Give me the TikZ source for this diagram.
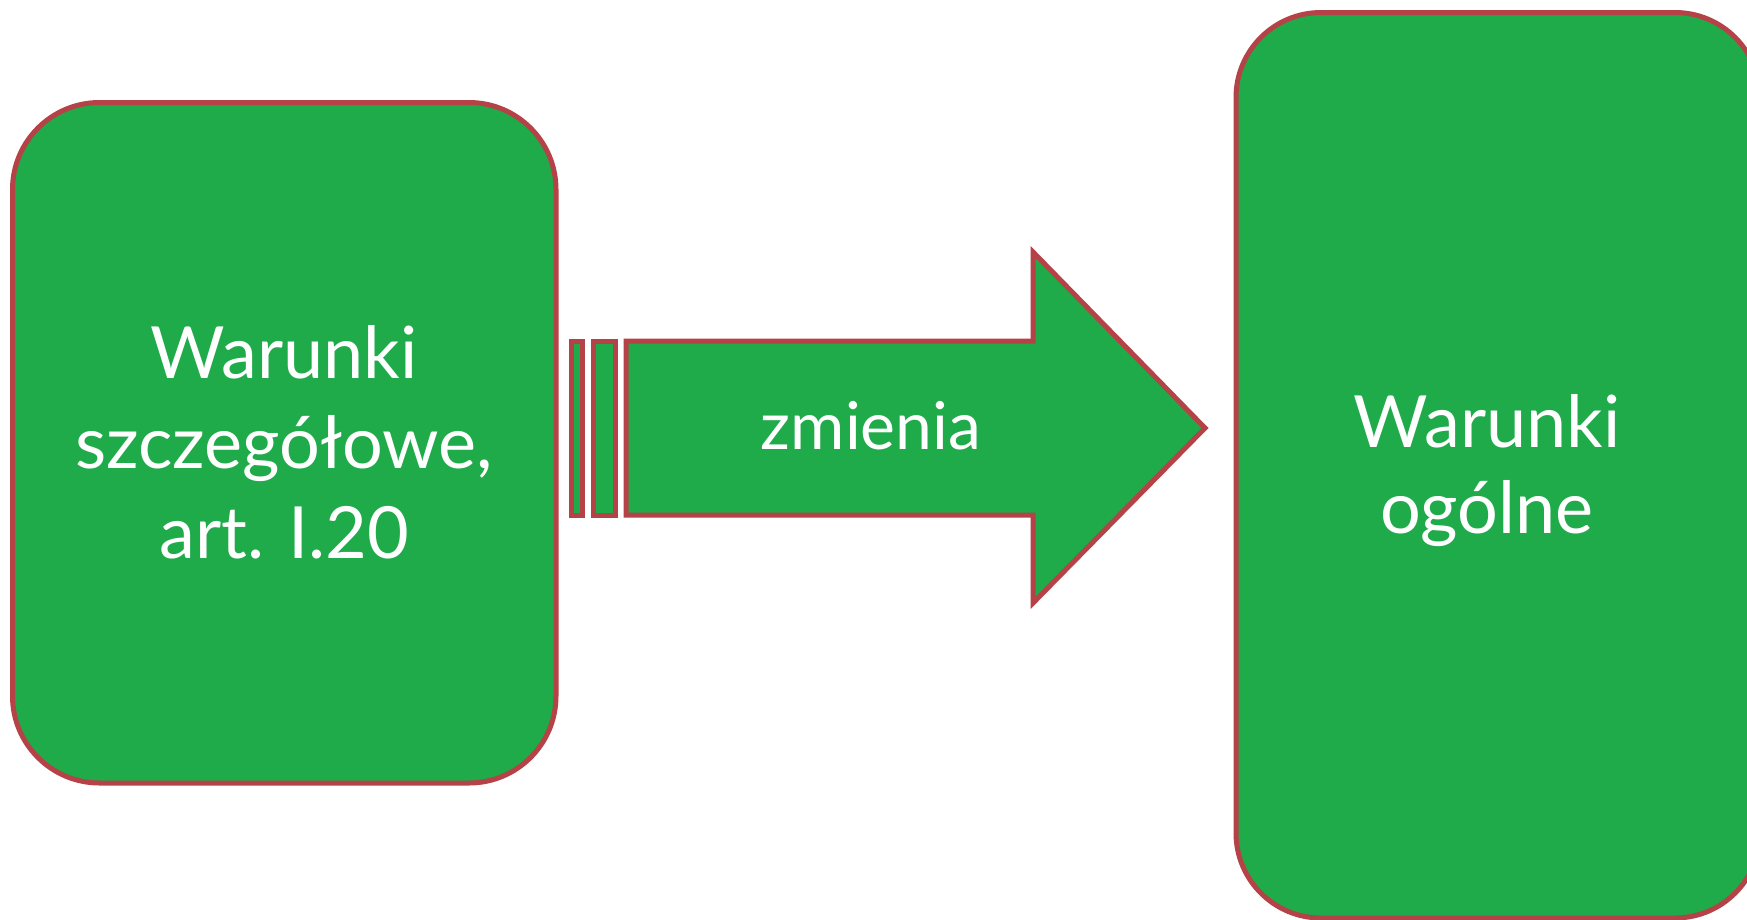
\documentclass[tikz,border=0pt]{standalone}
\usepackage{fontspec}
\setmainfont{Lato}
\definecolor{boxgreen}{RGB}{31,171,74}
\definecolor{boxred}{RGB}{181,66,70}
\tikzset{
  card/.style={draw=boxred, fill=boxgreen, line width=5pt, rounded corners=#1,
    text=white, align=center, inner sep=0pt,
    font=\fontsize{72}{90}\selectfont},
  shapefill/.style={draw=boxred, fill=boxgreen, line width=5pt, line join=miter},
  lbl/.style={text=white, align=center, inner sep=0pt, font=\fontsize{72}{86}\selectfont}
}
\begin{document}
\begin{tikzpicture}[x=1pt,y=-1pt]
\useasboundingbox (0,0) rectangle (1747,919);
\clip (0,0) rectangle (1747,919);
% left card
\node[card=87pt, minimum width=543.5pt, minimum height=680.5pt] (left) at (284.25,442.75)
  {\raisebox{-4pt}{\parbox{540pt}{\centering Warunki\\szczegółowe,\\art. I.20}}};
% right card (runs past the page edge)
\node[card=85pt, minimum width=524pt, minimum height=905.5pt] (right) at (1498,465.25) {};
\node[lbl] (rtext) at (1487,471) {Warunki\\ogólne};
% arrow with two bars
\draw[shapefill] (571.8,341) rectangle (582.5,515);
\draw[shapefill] (593,341) rectangle (615.5,515);
\draw[shapefill] (626,341) -- (1033,341) -- (1033,252) -- (1205,428) -- (1033,603) -- (1033,515) -- (626,515) -- cycle;
\node[lbl, anchor=base, font=\fontsize{66}{80}\selectfont] (arrowtext) at (871,449) {zmienia};
\end{tikzpicture}
\end{document}
